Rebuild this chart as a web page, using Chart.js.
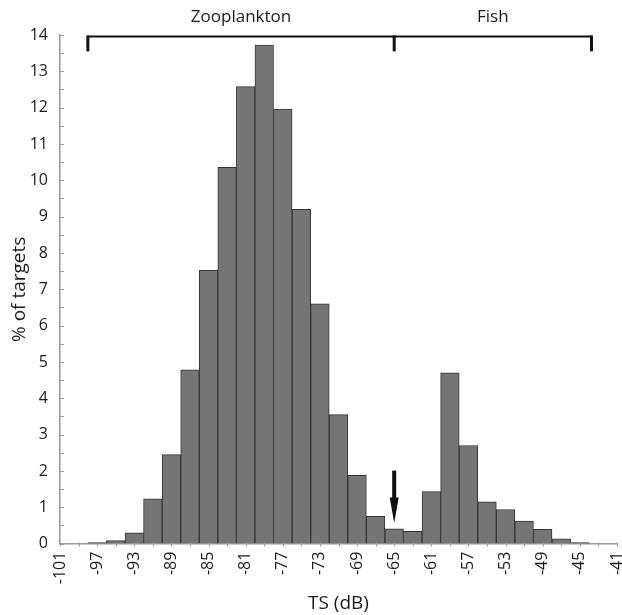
<!DOCTYPE html>
<html>
<head>
<meta charset="utf-8">
<script src="https://cdn.jsdelivr.net/npm/chart.js@4.4.0/dist/chart.umd.min.js"></script>
<style>
  html, body { margin: 0; padding: 0; background: #fff; }
  #wrap { width: 622px; height: 615px; position: relative; }
</style>
</head>
<body>
<div id="wrap"><canvas id="myChart"></canvas></div>
<script>
// TS bin centres (dB), 2 dB bins
const binCenters = [-97, -95, -93, -91, -89, -87, -85, -83, -81, -79, -77, -75, -73, -71, -69,
                    -67, -65, -63, -61, -59, -57, -55, -53, -51, -49, -47, -45];
// % of targets in each bin
const percentTargets = [0.03, 0.08, 0.3, 1.23, 2.45, 4.78, 7.52, 10.36, 12.58, 13.72, 11.96, 9.2, 6.6, 3.55, 1.88,
                        0.75, 0.41, 0.34, 1.43, 4.7, 2.7, 1.15, 0.94, 0.62, 0.39, 0.13, 0.03];
// labelled x ticks
const xTickLabels = [-101, -97, -93, -89, -85, -81, -77, -73, -69, -65, -61, -57, -53, -49, -45, -41];
// group brackets at the top: [label, from, to]
const groups = [['Zooplankton', -98, -65], ['Fish', -65, -43.75]];
const arrowAt = -65;

const FONT = '"Open Sans", "DejaVu Sans", sans-serif';
const axisGray = '#9a9a9a';

const extras = {
    id: 'extras',
    afterDraw(chart) {
        const ctx = chart.ctx;
        const x = chart.scales.x, y = chart.scales.y;
        const area = chart.chartArea;
        ctx.save();
        // y ticks (inside)
        ctx.strokeStyle = axisGray;
        ctx.lineWidth = 1;
        for (let v = 0; v <= 14; v += 0.5) {
            const py = Math.round(y.getPixelForValue(v)) + 0.5;
            ctx.beginPath();
            ctx.moveTo(area.left, py);
            ctx.lineTo(area.left + 4, py);
            ctx.stroke();
        }
        // x ticks
        for (let v = -101; v <= -41; v += 2) {
            const px = Math.round(x.getPixelForValue(v)) + 0.5;
            ctx.beginPath();
            ctx.moveTo(px, area.bottom - 1);
            ctx.lineTo(px, area.bottom + 3);
            ctx.stroke();
        }
        // brackets
        ctx.strokeStyle = '#111';
        ctx.fillStyle = '#111';
        const yTop = y.getPixelForValue(13.96);
        const yDrop = y.getPixelForValue(13.55);
        ctx.lineWidth = 2;
        ctx.beginPath();
        ctx.moveTo(x.getPixelForValue(groups[0][1]), yTop);
        ctx.lineTo(x.getPixelForValue(groups[groups.length - 1][2]), yTop);
        ctx.stroke();
        ctx.lineWidth = 3;
        const ends = [groups[0][1], groups[0][2], groups[1][2]];
        ends.forEach((v) => {
            const px = x.getPixelForValue(v);
            ctx.beginPath();
            ctx.moveTo(px, yTop - 1);
            ctx.lineTo(px, yDrop);
            ctx.stroke();
        });
        ctx.font = '17px ' + FONT;
        ctx.textAlign = 'center';
        ctx.textBaseline = 'middle';
        ctx.fillStyle = '#1a1a1a';
        groups.forEach((g) => {
            const cx = (x.getPixelForValue(g[1]) + x.getPixelForValue(g[2])) / 2;
            ctx.fillText(g[0], cx, yTop - 19);
        });
        // arrow
        const ax = x.getPixelForValue(arrowAt);
        const a0 = y.getPixelForValue(2.01), a1 = y.getPixelForValue(1.27), a2 = y.getPixelForValue(0.57);
        ctx.fillStyle = '#111';
        ctx.fillRect(ax - 2, a0, 4, a1 - a0 + 1);
        ctx.beginPath();
        ctx.moveTo(ax - 4.5, a1);
        ctx.lineTo(ax + 4.5, a1);
        ctx.lineTo(ax, a2);
        ctx.closePath();
        ctx.fill();
        ctx.restore();
    }
};

const ctx = document.getElementById('myChart');
const myChart = new Chart(ctx, {
    type: 'bar',
    data: {
        datasets: [{
            data: binCenters.map((c, i) => ({ x: c, y: percentTargets[i] })),
            backgroundColor: '#757575',
            borderColor: '#353535',
            borderWidth: 1,
            barPercentage: 1,
            categoryPercentage: 1
        }]
    },
    options: {
        responsive: true,
        maintainAspectRatio: false,
        animation: false,
        layout: { padding: { top: 35, right: 0, left: 8, bottom: 0 } },
        plugins: {
            legend: { display: false },
            tooltip: { enabled: false }
        },
        scales: {
            x: {
                type: 'linear',
                min: -101,
                max: -41,
                offset: false,
                grid: { display: false, drawTicks: false },
                border: { color: axisGray, width: 1.5 },
                afterBuildTicks: (axis) => {
                    axis.ticks = xTickLabels.map((v) => ({ value: v }));
                },
                afterFit: (axis) => {
                    axis.paddingRight = 5;
                },
                ticks: {
                    autoSkip: false,
                    minRotation: 90,
                    maxRotation: 90,
                    padding: 8,
                    color: '#1a1a1a',
                    font: { family: FONT, size: 16 },
                    callback: (v) => String(v)
                },
                title: {
                    display: true,
                    text: 'TS (dB)',
                    color: '#1a1a1a',
                    font: { family: FONT, size: 19 },
                    padding: { top: 0, bottom: 0 }
                }
            },
            y: {
                min: 0,
                max: 14,
                grid: { display: false, drawTicks: false },
                border: { color: axisGray, width: 1.5 },
                afterFit: (axis) => {
                    axis.width = 52;
                },
                ticks: {
                    stepSize: 1,
                    padding: 12,
                    color: '#1a1a1a',
                    font: { family: FONT, size: 16 }
                },
                title: {
                    display: true,
                    text: '% of targets',
                    color: '#1a1a1a',
                    font: { family: FONT, size: 19 },
                    padding: { top: 0, bottom: 0 }
                }
            }
        }
    },
    plugins: [extras]
});
</script>
</body>
</html>
